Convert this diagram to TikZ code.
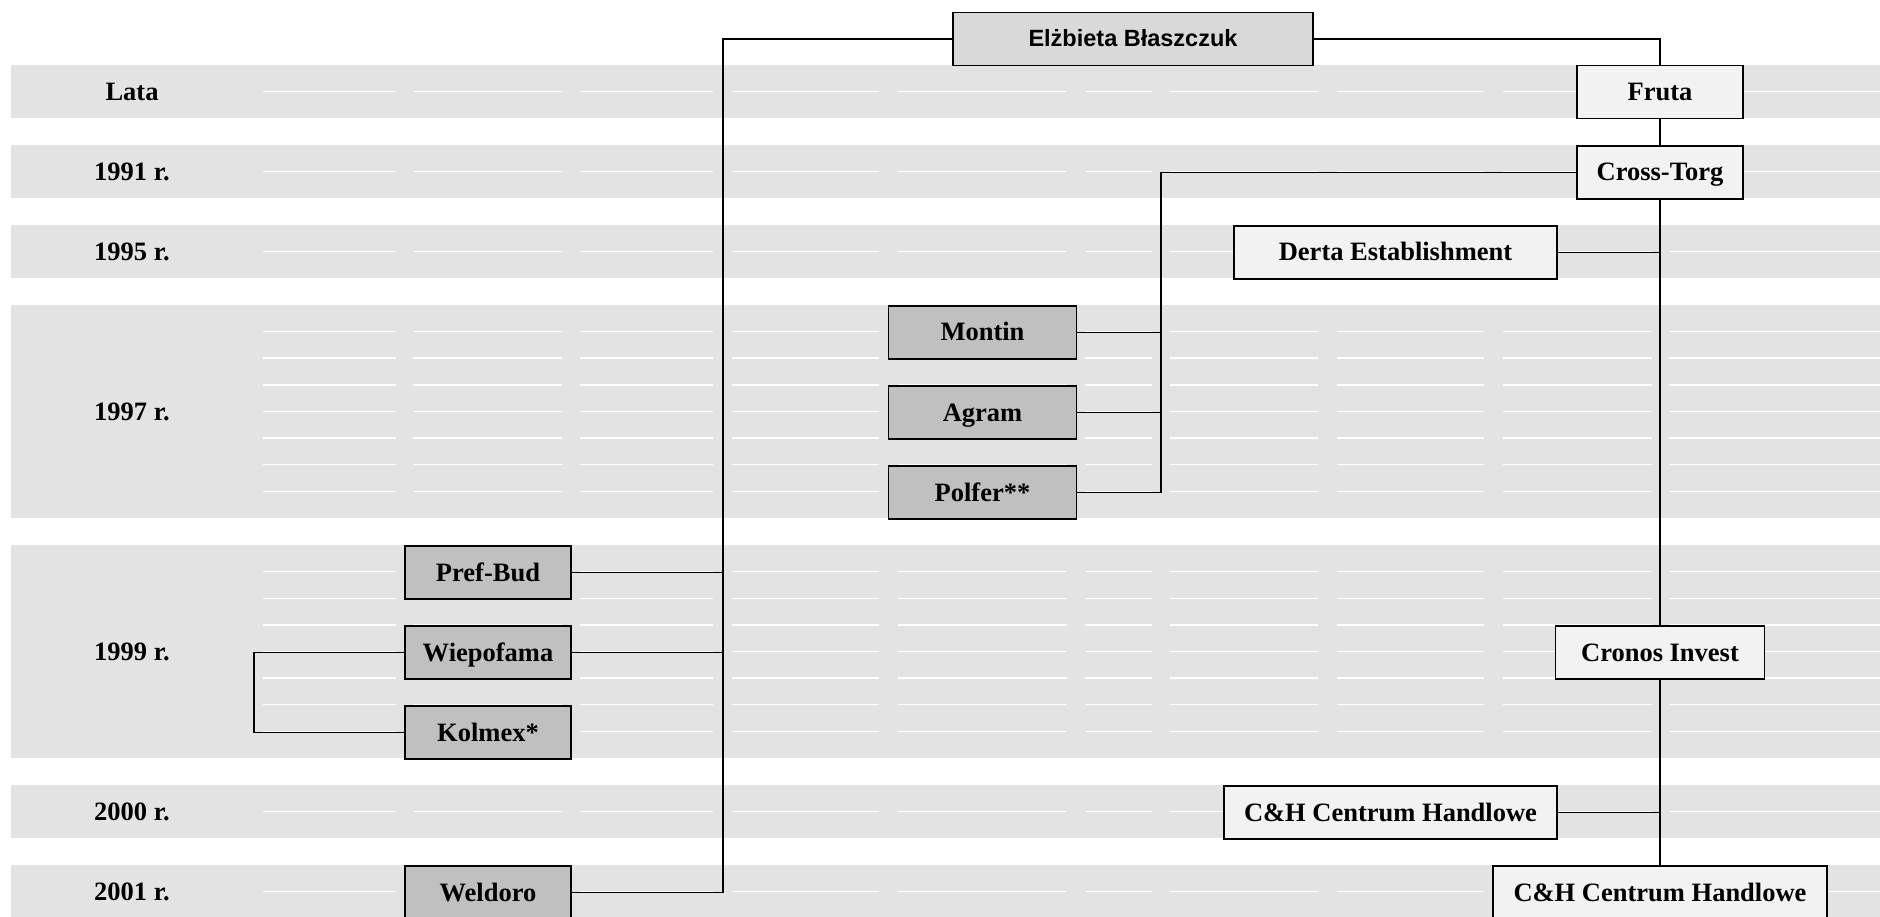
\documentclass[tikz,border=0pt]{standalone}
\usepackage{fontspec}
\setmainfont{Liberation Serif}
\newfontfamily\arialfont{Liberation Sans}
\definecolor{bandgray}{HTML}{E3E3E3}
\definecolor{boxlight}{HTML}{F2F2F2}
\definecolor{boxmid}{HTML}{D9D9D9}
\definecolor{boxdark}{HTML}{C0C0C0}

\begin{document}
\begin{tikzpicture}[x=1pt,y=-1pt,
		firm/.style={draw=black,line width=1.8pt,minimum height=53pt,inner sep=0pt,text height=19pt,text depth=2pt,font=\fontsize{26.5}{30}\selectfont\bfseries},
		lightfirm/.style={firm,fill=boxlight},
		darkfirm/.style={firm,fill=boxdark,minimum width=166pt},
		yearlabel/.style={inner sep=0pt,text height=19pt,text depth=2pt,font=\fontsize{26.5}{30}\selectfont\bfseries},
		trunk/.style={line width=1.7pt},
		branch/.style={line width=1.1pt},
		gridline/.style={white,line width=1.4pt}]
			\useasboundingbox (0,0) rectangle (1880,917);
			\foreach \t/\b in {65/118,145/198,225/278,305/518,545/758,785/838,865/930}
				\fill[bandgray] (11,\t) rectangle (1880,\b);
			\foreach \t/\n in {65/1,145/1,225/1,305/7,545/7,785/1,865/1}
				\foreach \k in {1,...,\n}
					\foreach \a/\b in {263/396,413/562,580/713,732/879,898/1067,1085/1152,1170/1318,1337/1484,1503/1652,1669/1880}
						\draw[gridline] (\a,{\t+\k*26.6}) -- (\b,{\t+\k*26.6});
			\foreach \y/\txt [count=\i] in {92/Lata,172/1991 r.,252/1995 r.,412/1997 r.,652/1999 r.,812/2000 r.,892/2001 r.}
				\node[yearlabel] (yr\i) at (132,\y) {\txt};
			\node[firm,fill=boxmid,minimum width=360pt,text height=17pt,text depth=1pt,font=\arialfont\fontsize{23.5}{27}\selectfont\bfseries] (eb) at (1133,39) {Elżbieta Błaszczuk};
			\node[lightfirm,minimum width=166pt] (fruta) at (1660,92) {Fruta};
			\node[lightfirm,minimum width=166pt] (cross) at (1660,172.5) {Cross-Torg};
			\node[lightfirm,minimum width=323pt] (derta) at (1395.5,252.5) {Derta Establishment};
			\node[darkfirm,minimum width=188pt] (montin) at (982.5,332.5) {Montin};
			\node[darkfirm,minimum width=188pt] (agram) at (982.5,412.5) {Agram};
			\node[darkfirm,minimum width=188pt] (polfer) at (982.5,492.5) {Polfer**};
			\node[darkfirm] (prefbud) at (488,572.5) {Pref-Bud};
			\node[darkfirm] (wiepofama) at (488,652.5) {Wiepofama};
			\node[darkfirm] (kolmex) at (488,732.5) {Kolmex*};
			\node[darkfirm] (weldoro) at (488,892.5) {Weldoro};
			\node[lightfirm,minimum width=209pt] (cronos) at (1660,652.5) {Cronos Invest};
			\node[lightfirm,minimum width=333pt] (chfirst) at (1390.5,812.5) {C\&H Centrum Handlowe};
			\node[lightfirm,minimum width=334pt] (chsecond) at (1660,892.5) {C\&H Centrum Handlowe};
			\coordinate (ljoint) at (723,892.5);
			\coordinate (mjoint) at (1161,492.5);
			\coordinate (kjoint) at (254,652.5);
			\draw[trunk] (eb.west) -| (ljoint);
			\draw[branch] (ljoint) -- (weldoro.east);
			\draw[branch] (prefbud.east) -- (prefbud.east -| ljoint);
			\draw[branch] (wiepofama.east) -- (wiepofama.east -| ljoint);
			\draw[branch] (wiepofama.west) -- (kjoint) |- (kolmex.west);
			\draw[trunk] (eb.east) -| (fruta.north);
			\draw[trunk] (fruta.south) -- (cross.north);
			\draw[trunk] (cross.west) -| (mjoint);
			\draw[branch] (mjoint) -- (polfer.east);
			\draw[branch] (montin.east) -- (montin.east -| mjoint);
			\draw[branch] (agram.east) -- (agram.east -| mjoint);
			\draw[trunk] (cross.south) -- (cronos.north);
			\draw[branch] (derta.east) -- (derta.east -| cross.south);
			\draw[trunk] (cronos.south) -- (chsecond.north);
			\draw[branch] (chfirst.east) -- (chfirst.east -| cronos.south);
		\end{tikzpicture}
\end{document}
